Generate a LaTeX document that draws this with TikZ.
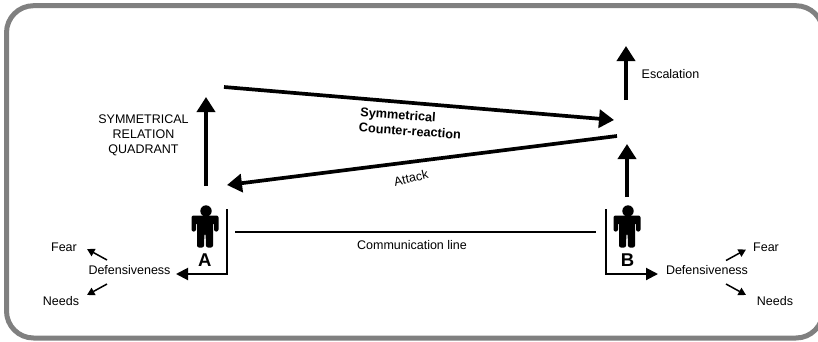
\documentclass[tikz,border=0pt]{standalone}
\usepackage{fontspec}
\setmainfont{Liberation Sans}
\usetikzlibrary{arrows.meta}
\tikzset{every picture/.style={>={Triangle[length=15pt,width=18pt]}}}
\tikzset{heavy line/.style={line width=3.7pt}}
\tikzset{thin line/.style={line width=2pt,>={Triangle[length=12pt,width=12pt]}}}
\tikzset{small line/.style={line width=1.5pt,>={Triangle[length=7.5pt,width=8pt]}}}
\tikzset{label text/.style={font=\fontsize{12.5}{15}\selectfont,align=center,inner sep=0pt}}
\tikzset{bold text/.style={label text,font=\fontsize{12.7}{15}\selectfont\bfseries}}
\tikzset{person letter/.style={label text,font=\fontsize{18.5}{19}\selectfont\bfseries}}
\definecolor{framegray}{gray}{0.5}
\newcommand{\personicon}[1]{
  \fill (#1) ++(1,-9) circle (5.7);
  \fill[rounded corners=2] (#1) ++(-13.5,-4.5) -- ++(27,0) -- ++(0,16) -- ++(-4.5,0) -- ++(0,-9)
    -- ++(-1,0) -- ++(0,25) -- ++(-7,0) -- ++(-0.4,-14) -- ++(-1.2,0) -- ++(-0.4,14) -- ++(-7,0) -- ++(0,-25)
    -- ++(-1,0) -- ++(0,9) -- ++(-4.5,0) -- cycle;
}
\begin{document}
\begin{tikzpicture}[x=1pt,y=-1pt]
      \clip (0,0) rectangle (818,341);
      \draw[framegray,line width=5pt,rounded corners=27] (6.5,5.7) rectangle (823,338);
      % people
      \coordinate (personA) at (205,220);
      \coordinate (personB) at (627,220);
      \personicon{personA}
      \personicon{personB}
      \node[person letter] (labelA) at (204.7,260) {A};
      \node[person letter] (labelB) at (627.5,260) {B};
      % labels
      \node[label text] (quadrant) at (143.5,135) {SYMMETRICAL\\RELATION\\QUADRANT};
      \node[label text] (escalation) at (670.5,74) {Escalation};
      \node[bold text,rotate=-4] (symmetrical) at (398,116) {Symmetrical};
      \node[bold text,rotate=-4] (counter) at (410,131) {Counter-reaction};
      \node[label text,rotate=13] (attack) at (411,178) {Attack};
      \node[label text] (commline) at (412,245) {Communication line};
      \node[label text] (defA) at (129.5,270) {Defensiveness};
      \node[label text] (fearA) at (64,247) {Fear};
      \node[label text] (needsA) at (61,301) {Needs};
      \node[label text] (defB) at (707,270) {Defensiveness};
      \node[label text] (fearB) at (766,247) {Fear};
      \node[label text] (needsB) at (775,301) {Needs};
      % connector ends
      \coordinate (upAstart) at (206,186);
      \coordinate (upAend) at (206,97);
      \coordinate (upBstart) at (627,197);
      \coordinate (upBend) at (627,144);
      \coordinate (escStart) at (626,100);
      \coordinate (escEnd) at (626,46);
      \coordinate (counterStart) at (224,87);
      \coordinate (counterEnd) at (614,120);
      \coordinate (attackStart) at (617,136);
      \coordinate (attackEnd) at (227,185);
      \coordinate (commA) at (235,232);
      \coordinate (commB) at (596,232);
      \coordinate (bracketAtop) at (226.7,209);
      \coordinate (bracketAlow) at (226.7,274);
      \coordinate (bracketAend) at (176,274);
      \coordinate (bracketBtop) at (606,209);
      \coordinate (bracketBlow) at (606,274);
      \coordinate (bracketBend) at (658,274);
      \coordinate (fearAstart) at (107,260);
      \coordinate (fearAend) at (87,249);
      \coordinate (needsAstart) at (107,284);
      \coordinate (needsAend) at (87,295);
      \coordinate (fearBstart) at (726,260.5);
      \coordinate (fearBend) at (746,249.5);
      \coordinate (needsBstart) at (726,284);
      \coordinate (needsBend) at (746,295);
      \draw[->,heavy line] (upAstart) -- (upAend);
      \draw[->,heavy line] (upBstart) -- (upBend);
      \draw[->,heavy line] (escStart) -- (escEnd);
      \draw[->,heavy line] (counterStart) -- (counterEnd);
      \draw[->,heavy line] (attackStart) -- (attackEnd);
      \draw[line width=2pt] (commA) -- (commB);
      \draw[->,thin line] (bracketAtop) -- (bracketAlow) -- (bracketAend);
      \draw[->,thin line] (bracketBtop) -- (bracketBlow) -- (bracketBend);
      \draw[->,small line] (fearAstart) -- (fearAend);
      \draw[->,small line] (needsAstart) -- (needsAend);
      \draw[->,small line] (fearBstart) -- (fearBend);
      \draw[->,small line] (needsBstart) -- (needsBend);
    \end{tikzpicture}
\end{document}
